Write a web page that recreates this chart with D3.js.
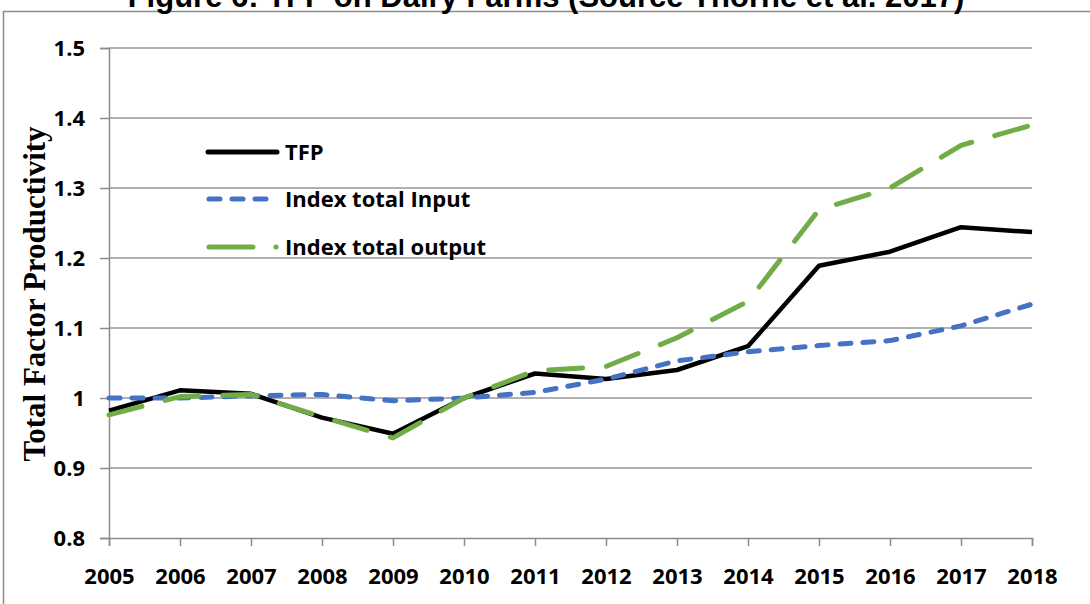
<!DOCTYPE html>
<html>
<head>
<meta charset="utf-8">
<script src="https://cdn.jsdelivr.net/npm/d3@7"></script>
<style>
  body { margin: 0; background: #fff; }
  svg { display: block; }
</style>
</head>
<body>
<div id="chart"></div>
<script>
var width = 1090;
var height = 604;

// data
var years = [2005, 2006, 2007, 2008, 2009, 2010, 2011, 2012, 2013, 2014, 2015, 2016, 2017, 2018];
var tfp = [0.982, 1.011, 1.006, 0.972, 0.949, 1.0, 1.035, 1.027, 1.040, 1.074, 1.189, 1.209, 1.244, 1.237];
var inputIdx = [1.0, 1.0, 1.003, 1.005, 0.996, 1.0, 1.008, 1.027, 1.053, 1.066, 1.075, 1.082, 1.103, 1.134];
var outputIdx = [0.976, 1.002, 1.005, 0.973, 0.943, 1.0, 1.039, 1.045, 1.086, 1.138, 1.269, 1.300, 1.361, 1.390];
var yTicks = [0.8, 0.9, 1, 1.1, 1.2, 1.3, 1.4, 1.5];

var seriesNames = ["TFP", "Index total Input", "Index total output"];
var seriesValues = [tfp, inputIdx, outputIdx];
var seriesColors = ["#000000", "#4472c4", "#70ad47"];
var seriesDash = [null, "11 12", "34 24"];

var svg = d3.select("#chart")
            .append("svg")
            .attr("width", width)
            .attr("height", height);

// outer frame
svg.append("rect")
   .attr("x", 3.5).attr("y", 11.5)
   .attr("width", width + 10).attr("height", height)
   .attr("fill", "none")
   .attr("stroke", "#8c8c8c")
   .attr("stroke-width", 1.5);

// title (cut off at the top, as in the source)
svg.append("text")
   .attr("x", 546).attr("y", 7)
   .attr("text-anchor", "middle")
   .attr("font-family", "Liberation Sans, Arial, sans-serif")
   .attr("font-weight", "bold")
   .attr("font-size", 31)
   .text("Figure 6: TFP on Dairy Farms (Source Thorne et al. 2017)");

var x = d3.scaleLinear().domain([2005, 2018]).range([109, 1032]);
var y = d3.scaleLinear().domain([0.8, 1.5]).range([538, 48]);

// gridlines
svg.append("g")
   .selectAll("line")
   .data(yTicks.slice(1))
   .join("line")
   .attr("x1", x(2005)).attr("x2", x(2018))
   .attr("y1", d => y(d)).attr("y2", d => y(d))
   .attr("stroke", "#979797")
   .attr("stroke-width", 1.5);

// y axis
var yAxis = svg.append("g")
   .attr("transform", "translate(" + x(2005) + ",0)")
   .call(d3.axisLeft(y).tickValues(yTicks).tickSize(9).tickPadding(15)
          .tickFormat(d => d === 1 ? "1" : d3.format(".1f")(d)));

// x axis
var xAxis = svg.append("g")
   .attr("transform", "translate(0," + y(0.8) + ")")
   .call(d3.axisBottom(x).tickValues(years).tickSize(8).tickPadding(22)
          .tickFormat(d3.format("d")));

[yAxis, xAxis].forEach(function(ax) {
  ax.select(".domain").attr("stroke", "#8c8c8c").attr("stroke-width", 1.5);
  ax.selectAll(".tick line").attr("stroke", "#8c8c8c").attr("stroke-width", 1.5);
  ax.selectAll("text")
    .attr("fill", "#000")
    .attr("font-family", "Open Sans, sans-serif")
    .attr("font-weight", "bold")
    .attr("font-size", 22);
});
yAxis.selectAll("text").attr("dy", "0.36em");

// y label
svg.append("text")
   .attr("transform", "translate(45,294) rotate(-90)")
   .attr("text-anchor", "middle")
   .attr("font-family", "Liberation Serif, Times New Roman, serif")
   .attr("font-weight", "bold")
   .attr("font-size", 31)
   .text("Total Factor Productivity");

// lines
var line = d3.line()
   .x((d, i) => x(years[i]))
   .y(d => y(d));

[0, 1, 2].forEach(function(k) {
  svg.append("path")
     .datum(seriesValues[k])
     .attr("d", line)
     .attr("fill", "none")
     .attr("stroke", seriesColors[k])
     .attr("stroke-width", k === 0 ? 4.5 : 5)
     .attr("stroke-linecap", k === 0 ? "butt" : "round")
     .attr("stroke-linejoin", "round")
     .attr("stroke-dasharray", seriesDash[k]);
});

// legend
var legend = svg.append("g");
var legY = [152, 199, 247];
seriesNames.forEach(function(name, k) {
  legend.append("line")
     .attr("x1", k === 0 ? 208 : 209).attr("x2", k === 0 ? 277 : 278)
     .attr("y1", legY[k]).attr("y2", legY[k])
     .attr("stroke", seriesColors[k])
     .attr("stroke-width", 5)
     .attr("stroke-linecap", "round")
     .attr("stroke-dasharray", k === 2 ? "44 23 0.1 30" : seriesDash[k]);
  legend.append("text")
     .attr("x", 285).attr("y", legY[k])
     .attr("dy", "0.36em")
     .attr("font-family", "Open Sans, sans-serif")
     .attr("font-weight", "bold")
     .attr("font-size", 22)
     .text(name);
});
</script>
</body>
</html>
